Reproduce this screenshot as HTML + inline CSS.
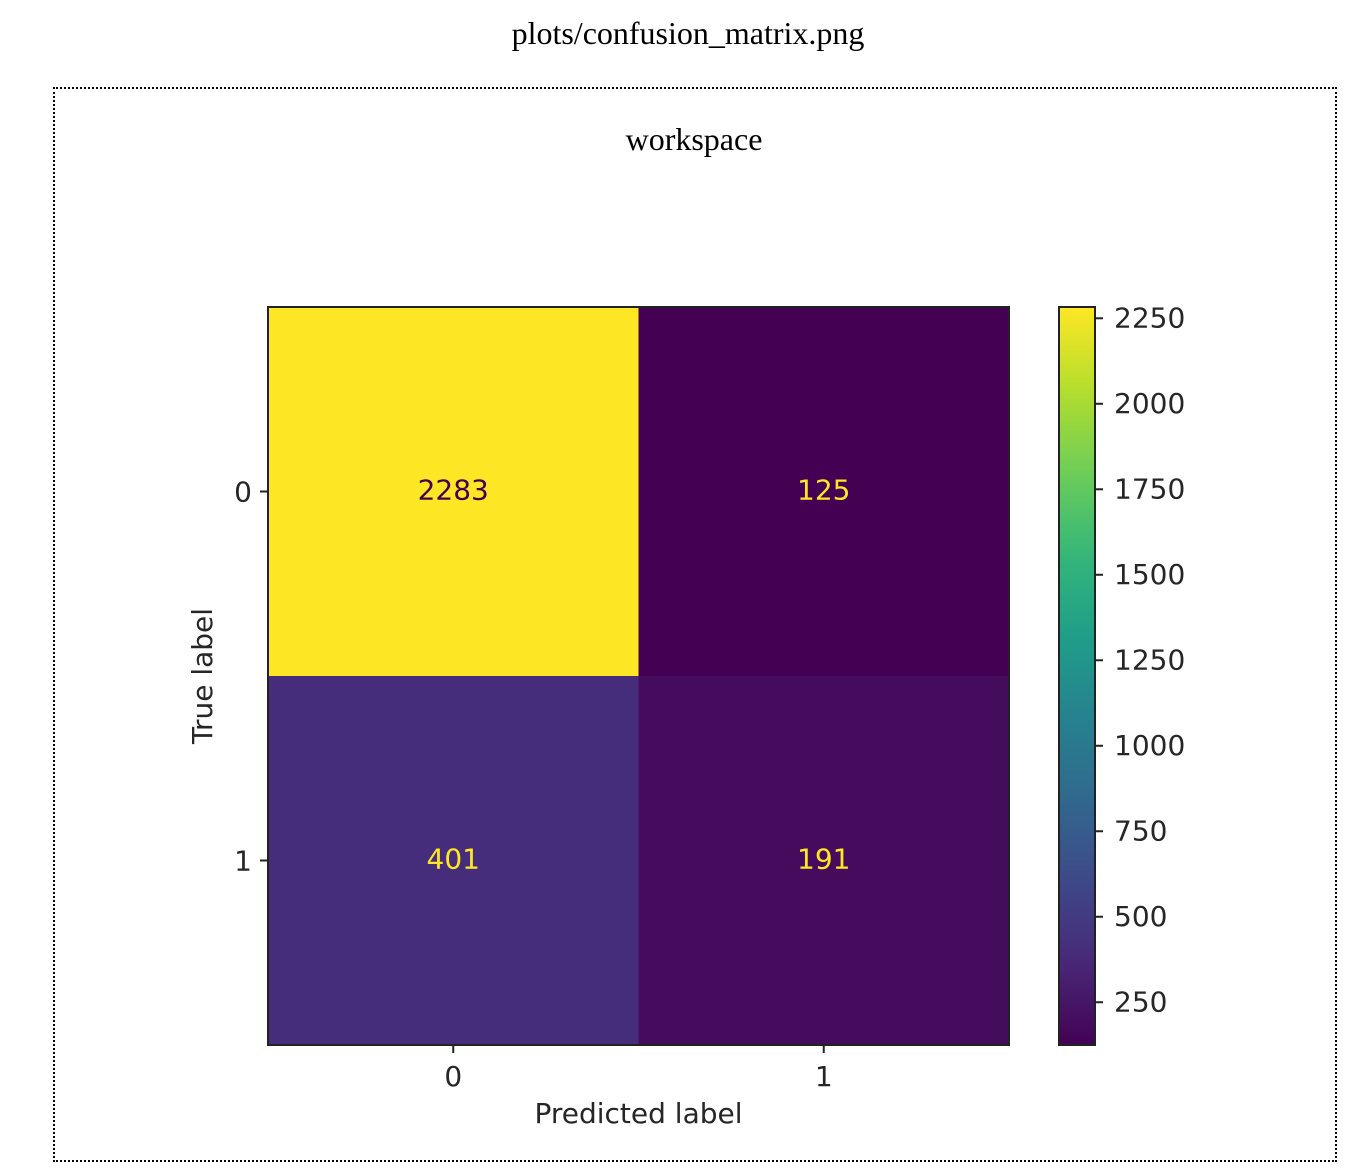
<!DOCTYPE html>
<html><head><meta charset="utf-8"><style>
body{margin:0;background:#fff;width:1352px;height:1168px;position:relative;overflow:hidden}
.t{position:absolute;font-family:"Liberation Serif",serif;color:#000;font-size:32px;white-space:nowrap}
#box{position:absolute;left:53px;top:87px;width:1280px;height:1071px;border:2px dotted #000}
svg{position:absolute;left:0;top:0}
svg text{font-family:"DejaVu Sans",sans-serif;fill:#262626;font-size:28px}
</style></head><body>
<div class="t" style="left:0;width:1376px;text-align:center;top:15px">plots/confusion_matrix.png</div>
<div id="box"></div>
<div class="t" style="left:0;width:1388px;text-align:center;top:121px">workspace</div>
<svg id="chart" width="1352" height="1168"></svg>
<script>
const trueLabels=["0","1"];
const predLabels=["0","1"];
const matrix=[[2283,125],[401,191]];
const cbTicks=[250,500,750,1000,1250,1500,1750,2000,2250];
const vmin=Math.min(...matrix.flat()), vmax=Math.max(...matrix.flat());
const vir=["#440154","#482878","#3e4989","#31688e","#26828e","#1f9e89","#35b779","#6ece58","#b5de2b","#fde725"];
function hex(h){return [1,3,5].map(i=>parseInt(h.substr(i,2),16));}
function cmap(t){t=Math.max(0,Math.min(1,t));const p=t*(vir.length-1),i=Math.min(Math.floor(p),vir.length-2),f=p-i;const a=hex(vir[i]),b=hex(vir[i+1]);return `rgb(${a.map((v,k)=>Math.round(v+(b[k]-v)*f)).join(",")})`;}
const ns="http://www.w3.org/2000/svg", svg=document.getElementById("chart");
function el(tag,at,txt){const e=document.createElementNS(ns,tag);for(const k in at)e.setAttribute(k,at[k]);if(txt!==undefined)e.textContent=txt;svg.appendChild(e);return e;}
const L=268,T=307,W=741,H=738;
const cw=W/predLabels.length, ch=H/trueLabels.length;
const xc=j=>L+cw*(j+0.5), yc=i=>T+ch*(i+0.5);
matrix.forEach((row,i)=>row.forEach((v,j)=>{
  const r=el("rect",{x:L+cw*j,y:T+ch*i,width:cw+0.5,height:ch+0.5,fill:cmap((v-vmin)/(vmax-vmin))});
  
  
  const t=el("text",{x:xc(j),y:yc(i)+8,"text-anchor":"middle",style:"fill:"+((v-vmin)/(vmax-vmin)>0.5?"#440154":"#fde725")},v);
  
  
}));
const fr=el("rect",{x:L,y:T,width:W,height:H,fill:"none",stroke:"#222","stroke-width":2});


predLabels.forEach((s,j)=>{
  el("line",{x1:xc(j),x2:xc(j),y1:T+H,y2:T+H+8,stroke:"#222","stroke-width":2});
  const t=el("text",{x:xc(j),y:T+H+41,"text-anchor":"middle"},s);
  
  
});
trueLabels.forEach((s,i)=>{
  el("line",{x1:L-8,x2:L,y1:yc(i),y2:yc(i),stroke:"#222","stroke-width":2});
  const t=el("text",{x:L-16,y:yc(i)+10,"text-anchor":"end"},s);
  
  
});
const xt=el("text",{x:L+W/2,y:1123,"text-anchor":"middle"},"Predicted label");


const yt=el("text",{x:0,y:0,"text-anchor":"middle",transform:`translate(212,${T+H/2}) rotate(-90)`},"True label");


const CL=1059,CW=36;
const cy=v=>T+H-(v-vmin)/(vmax-vmin)*H;
const grad=el("defs",{});
const lg=document.createElementNS(ns,"linearGradient");lg.setAttribute("id","g");lg.setAttribute("x1","0");lg.setAttribute("x2","0");lg.setAttribute("y1","1");lg.setAttribute("y2","0");
for(let k=0;k<=20;k++){const s=document.createElementNS(ns,"stop");s.setAttribute("offset",k/20);s.setAttribute("stop-color",cmap(k/20));lg.appendChild(s);}
grad.appendChild(lg);
const cb=el("rect",{x:CL,y:T,width:CW,height:H,fill:"url(#g)",stroke:"#222","stroke-width":2});


cbTicks.forEach(v=>{
  el("line",{x1:CL+CW,x2:CL+CW+8,y1:cy(v),y2:cy(v),stroke:"#222","stroke-width":2});
  const t=el("text",{x:CL+CW+19,y:cy(v)+9},v);
  
  
});
</script>
</body></html>
